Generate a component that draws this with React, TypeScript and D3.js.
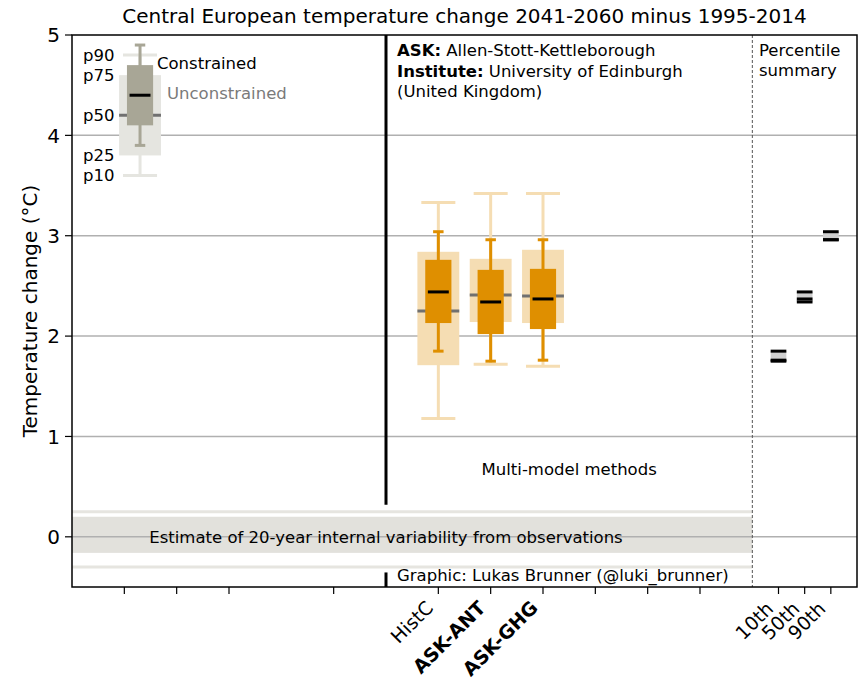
import React from "react";
import * as d3 from "d3";

const methods = ["HistC", "ASK-ANT", "ASK-GHG"];
const methodBold = [false, true, true];
const uncP10 = [1.18, 1.72, 1.70];
const uncP25 = [1.71, 2.14, 2.13];
const uncP50 = [2.25, 2.41, 2.40];
const uncP75 = [2.84, 2.77, 2.86];
const uncP90 = [3.33, 3.42, 3.42];
const conP10 = [1.85, 1.75, 1.76];
const conP25 = [2.13, 2.02, 2.07];
const conP50 = [2.44, 2.34, 2.37];
const conP75 = [2.76, 2.66, 2.67];
const conP90 = [3.04, 2.96, 2.96];

const legendLabels = ["p10", "p25", "p50", "p75", "p90"];
const legendUnc = [3.6, 3.8, 4.2, 4.6, 4.8];
const legendCon = [3.9, 4.1, 4.4, 4.7, 4.9];

const yTicks = [0, 1, 2, 3, 4, 5];
const xBlankTicks = [1, 2, 3, 5, 10, 11, 12];
const summaryLabels = ["10th", "50th", "90th"];
const varBand = [-0.16, 0.2];
const varLines = [-0.3, 0.25];

const W = 863, H = 683;
const L = 72, R = 857, T = 35, B = 587;
const FONT = "DejaVu Sans, sans-serif";
const FS = 16.5;
const FL = 20;

const ORANGE = "#df8f00";
const ORANGE_L = "#f5ddb3";
const GRAY = "#a8a696";
const GRAY_L = "#e5e5e0";

export default function App() {
  const x = d3.scaleLinear().domain([0, 15]).range([L, R]);
  const y = d3.scaleLinear().domain([-0.5, 5]).range([B, T]);

  const box = (
    cx: number,
    unc: number[],
    con: number[],
    dark: string,
    light: string,
    key: string
  ) => {
    const uw = 0.8, cw = 0.5, ucap = 0.65, ccap = 0.2, cmed = 0.4;
    return (
      <g key={key}>
        <line x1={x(cx)} x2={x(cx)} y1={y(unc[0])} y2={y(unc[4])} stroke={light} strokeWidth={3} />
        <line x1={x(cx - ucap / 2)} x2={x(cx + ucap / 2)} y1={y(unc[0])} y2={y(unc[0])} stroke={light} strokeWidth={3} />
        <line x1={x(cx - ucap / 2)} x2={x(cx + ucap / 2)} y1={y(unc[4])} y2={y(unc[4])} stroke={light} strokeWidth={3} />
        <rect x={x(cx - uw / 2)} width={x(uw) - x(0)} y={y(unc[3])} height={y(unc[1]) - y(unc[3])} fill={light} />
        <line x1={x(cx - uw / 2)} x2={x(cx + uw / 2)} y1={y(unc[2])} y2={y(unc[2])} stroke="#707070" strokeWidth={3} />
        <line x1={x(cx)} x2={x(cx)} y1={y(con[0])} y2={y(con[4])} stroke={dark} strokeWidth={3} />
        <line x1={x(cx - ccap / 2)} x2={x(cx + ccap / 2)} y1={y(con[0])} y2={y(con[0])} stroke={dark} strokeWidth={3} />
        <line x1={x(cx - ccap / 2)} x2={x(cx + ccap / 2)} y1={y(con[4])} y2={y(con[4])} stroke={dark} strokeWidth={3} />
        <rect x={x(cx - cw / 2)} width={x(cw) - x(0)} y={y(con[3])} height={y(con[1]) - y(con[3])} fill={dark} />
        <line x1={x(cx - cmed / 2)} x2={x(cx + cmed / 2)} y1={y(con[2])} y2={y(con[2])} stroke="#000" strokeWidth={3} />
      </g>
    );
  };

  const summaryX = [13.5, 14, 14.5];
  const summaryVals = [conP10, conP50, conP90];

  return (
    <svg width={W} height={H} style={{ position: "absolute", left: 0, top: 0, background: "#fff" }} fontFamily={FONT}>
      <rect width={W} height={H} fill="#fff" />
      <rect x={x(0)} width={x(13) - x(0)} y={y(varBand[1])} height={y(varBand[0]) - y(varBand[1])} fill="#e2e1dc" />
      {varLines.map((v, i) => (
        <line key={i} x1={x(0)} x2={x(13)} y1={y(v)} y2={y(v)} stroke="#e6e5e0" strokeWidth={3} />
      ))}
      {yTicks.slice(0, 5).map((t) => (
        <line key={t} x1={L} x2={R} y1={y(t)} y2={y(t)} stroke="#b0b0b0" strokeWidth={1.5} />
      ))}
      {box(1.3, legendUnc, legendCon, GRAY, GRAY_L, "legend")}
      {legendLabels.map((lab, i) => (
        <text key={lab} x={83} y={y(legendUnc[i])} dy="0.35em" fontSize={FS}>{lab}</text>
      ))}
      <text x={157} y={y(4.72)} dy="0.35em" fontSize={FS}>Constrained</text>
      <text x={167} y={y(4.42)} dy="0.35em" fontSize={FS} fill="#7a7a7a">Unconstrained</text>

      {methods.map((m, i) =>
        box(
          7 + i,
          [uncP10[i], uncP25[i], uncP50[i], uncP75[i], uncP90[i]],
          [conP10[i], conP25[i], conP50[i], conP75[i], conP90[i]],
          ORANGE,
          ORANGE_L,
          m
        )
      )}

      {summaryX.map((sx, i) => {
        const vals = summaryVals[i];
        const lo = d3.min(vals)!, hi = d3.max(vals)!;
        return (
          <g key={sx}>
            <rect x={x(sx - 0.15)} width={x(0.3) - x(0)} y={y(hi)} height={y(lo) - y(hi)} fill="#cfcfcf" />
            {vals.map((v, j) => (
              <line key={j} x1={x(sx - 0.15)} x2={x(sx + 0.15)} y1={y(v)} y2={y(v)} stroke="#000" strokeWidth={3} />
            ))}
          </g>
        );
      })}

      <line x1={x(6)} x2={x(6)} y1={y(5)} y2={y(0.32)} stroke="#000" strokeWidth={3} />
      <line x1={x(6)} x2={x(6)} y1={y(-0.355)} y2={y(-0.5)} stroke="#000" strokeWidth={3} />
      <line x1={x(13)} x2={x(13)} y1={T} y2={B} stroke="#555" strokeWidth={1} strokeDasharray="3,2" />

      <text x={x(6)} y={y(0)} dy="0.35em" textAnchor="middle" fontSize={FS}>Estimate of 20-year internal variability from observations</text>
      <text x={x(9.5)} y={y(0.67)} dy="0.35em" textAnchor="middle" fontSize={FS}>Multi-model methods</text>
      <text x={397} y={y(4.85)} dy="0.35em" fontSize={FS}>
        <tspan fontWeight="bold">ASK:</tspan> Allen-Stott-Kettleborough
      </text>
      <text x={397} y={y(4.64)} dy="0.35em" fontSize={FS}>
        <tspan fontWeight="bold">Institute:</tspan> University of Edinburgh
      </text>
      <text x={397} y={y(4.44)} dy="0.35em" fontSize={FS}>(United Kingdom)</text>
      <text x={759} y={y(4.85)} dy="0.35em" fontSize={FS}>Percentile</text>
      <text x={759} y={y(4.65)} dy="0.35em" fontSize={FS}>summary</text>
      <text x={397} y={y(-0.38)} dy="0.35em" fontSize={FS}>Graphic: Lukas Brunner (@luki_brunner)</text>

      <rect x={L} y={T} width={R - L} height={B - T} fill="none" stroke="#000" strokeWidth={1.5} />

      {yTicks.map((t) => (
        <g key={t}>
          <line x1={L - 7} x2={L} y1={y(t)} y2={y(t)} stroke="#000" strokeWidth={1.2} />
          <text x={L - 12} y={y(t)} dy="0.36em" textAnchor="end" fontSize={FL}>{t}</text>
        </g>
      ))}
      <text transform={`translate(37,${(T + B) / 2}) rotate(-90)`} textAnchor="middle" fontSize={FL}>Temperature change (°C)</text>

      {xBlankTicks.map((t) => (
        <line key={t} x1={x(t)} x2={x(t)} y1={B} y2={B + 7} stroke="#000" strokeWidth={1.2} />
      ))}
      {methods.map((m, i) => (
        <g key={m}>
          <line x1={x(7 + i)} x2={x(7 + i)} y1={B} y2={B + 7} stroke="#000" strokeWidth={1.2} />
          <text transform={`translate(${x(7 + i) - 4},${B + 22}) rotate(-45)`} textAnchor="end" fontSize={19} fontWeight={methodBold[i] ? "bold" : "normal"}>{m}</text>
        </g>
      ))}
      {summaryLabels.map((s, i) => (
        <g key={s}>
          <line x1={x(summaryX[i])} x2={x(summaryX[i])} y1={B} y2={B + 7} stroke="#000" strokeWidth={1.2} />
          <text transform={`translate(${x(summaryX[i]) - 4},${B + 23}) rotate(-45)`} textAnchor="end" fontSize={19}>{s}</text>
        </g>
      ))}

      <text x={(L + R) / 2} y={23} textAnchor="middle" fontSize={FL}>Central European temperature change 2041-2060 minus 1995-2014</text>
    </svg>
  );
}
